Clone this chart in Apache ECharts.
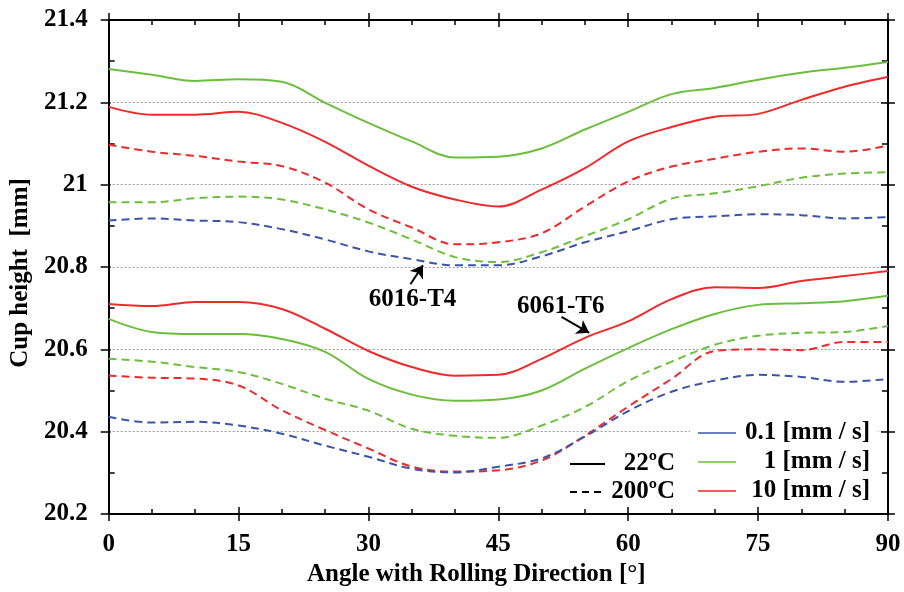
<!DOCTYPE html>
<html>
<head>
<meta charset="utf-8">
<script src="https://cdn.jsdelivr.net/npm/echarts@6/dist/echarts.min.js"></script>
<style>
html,body{margin:0;padding:0;background:#fff;}
#chart{width:904px;height:592px;}
</style>
</head>
<body>
<div id="chart"></div>
<script>
// ---- data ----
const angles = [0,5,10,15,20,25,30,35,40,45,50,55,60,65,70,75,80,85,90];
const xTicks = [0,15,30,45,60,75,90];
const yTicks = [20.2,20.4,20.6,20.8,21,21.2,21.4];

// 6016-T4 (upper group)
const t4_1mm_22C   = [21.281,21.267,21.252,21.256,21.250,21.199,21.150,21.105,21.066,21.068,21.088,21.134,21.177,21.220,21.235,21.255,21.272,21.284,21.298];
const t4_10mm_22C  = [21.189,21.170,21.170,21.177,21.150,21.104,21.046,20.995,20.964,20.947,20.988,21.040,21.105,21.140,21.165,21.172,21.206,21.238,21.262];
const t4_10mm_200C = [21.097,21.080,21.070,21.056,21.045,21.005,20.940,20.896,20.855,20.860,20.882,20.947,21.008,21.044,21.063,21.080,21.088,21.080,21.095];
const t4_1mm_200C  = [20.957,20.957,20.967,20.971,20.964,20.940,20.908,20.867,20.824,20.812,20.836,20.875,20.916,20.966,20.979,20.996,21.017,21.027,21.030];
const t4_01mm_200C = [20.913,20.918,20.913,20.909,20.892,20.867,20.838,20.819,20.804,20.804,20.826,20.860,20.887,20.916,20.923,20.928,20.926,20.918,20.921];

// 6061-T6 (lower group)
const t6_10mm_22C  = [20.710,20.705,20.715,20.715,20.698,20.650,20.596,20.557,20.536,20.538,20.577,20.628,20.668,20.722,20.751,20.749,20.766,20.778,20.790];
const t6_1mm_22C   = [20.674,20.642,20.637,20.637,20.625,20.594,20.528,20.490,20.475,20.478,20.500,20.553,20.603,20.649,20.686,20.708,20.712,20.717,20.730];
const t6_1mm_200C  = [20.577,20.570,20.557,20.545,20.516,20.480,20.451,20.407,20.390,20.385,20.415,20.460,20.523,20.570,20.611,20.633,20.640,20.642,20.657];
const t6_10mm_200C = [20.536,20.531,20.529,20.512,20.452,20.404,20.359,20.315,20.303,20.306,20.330,20.390,20.461,20.528,20.596,20.600,20.598,20.618,20.618];
const t6_01mm_200C = [20.436,20.422,20.424,20.415,20.395,20.366,20.339,20.310,20.301,20.315,20.335,20.388,20.450,20.497,20.524,20.538,20.533,20.521,20.528];

const speedNames = ['0.1 [mm / s]','1 [mm / s]','10 [mm / s]'];
const tempNames = ['22ºC','200ºC'];

// annotations: label, label position, arrow start, arrow tip (angle, height)
const annoLabels = ['6016-T4','6061-T6'];
const annoLabelAt = [[35.1,20.722],[52.2,20.705]];
const annoArrowFrom = [[34.85,20.758],[52.3,20.679]];
const annoArrowTo = [[36.3,20.804],[55.5,20.640]];

// ---- styles ----
const BLUE = '#3a55a8', GREEN = '#6cbf3e', RED = '#ee2a2b';
const FONT = 'Liberation Serif';
const DASH = [8,5];
const FS = 25;

const chart = echarts.init(document.getElementById('chart'));

function pairs(ys){ return angles.map((a,i)=>[a,ys[i]]); }
function mkSeries(name, ys, color, dashed){
  return {
    name, type:'line', data: pairs(ys), smooth:0.35, symbol:'none',
    lineStyle:{color, width:2, type: dashed ? DASH : 'solid'},
    itemStyle:{color}, z:3, silent:true
  };
}

const X = {min:0, max:90, interval:15};
const Y = {min:20.2, max:21.4, interval:0.2};
const axisLine = {show:true, onZero:false, lineStyle:{color:'#000', width:2}};
const tickStyle = {color:'#000', width:1.5};

const xAxes = [
  Object.assign({type:'value', position:'bottom', axisLine,
    axisTick:{show:true, inside:false, length:7, lineStyle:tickStyle},
    axisLabel:{show:true, margin:18, color:'#000', fontFamily:FONT, fontWeight:'bold', fontSize:FS},
    splitLine:{show:false},
    name:'Angle with Rolling Direction [°]', nameLocation:'middle', nameGap:48,
    nameTextStyle:{color:'#000', fontFamily:FONT, fontWeight:'bold', fontSize:FS, padding:[0,44,0,0]}}, X),
  Object.assign({type:'value', position:'bottom', axisLine,
    axisTick:{show:true, inside:true, length:7, lineStyle:tickStyle},
    minorTick:{show:true, splitNumber:3, length:5, lineStyle:tickStyle},
    axisLabel:{show:false}, splitLine:{show:false}}, X),
  Object.assign({type:'value', position:'top', axisLine,
    axisTick:{show:true, inside:true, length:7, lineStyle:tickStyle},
    minorTick:{show:true, splitNumber:3, length:5, lineStyle:tickStyle},
    axisLabel:{show:false}, splitLine:{show:false}}, X),
  Object.assign({type:'value', position:'top', axisLine,
    axisTick:{show:true, inside:false, length:7, lineStyle:tickStyle},
    axisLabel:{show:false}, splitLine:{show:false}}, X)
];
const yAxes = [
  Object.assign({type:'value', position:'left', axisLine,
    axisTick:{show:true, inside:false, length:8, lineStyle:tickStyle},
    axisLabel:{show:true, margin:21, color:'#000', fontFamily:FONT, fontWeight:'bold', fontSize:FS,
      formatter: v => String(+v.toFixed(1))},
    splitLine:{show:true, lineStyle:{color:'#999', width:1, type:[2,2]}},
    name:'Cup height  [mm]', nameLocation:'middle', nameGap:68, nameRotate:90,
    nameTextStyle:{color:'#000', fontFamily:FONT, fontWeight:'bold', fontSize:FS, padding:[0,12,0,0]}}, Y),
  Object.assign({type:'value', position:'left', axisLine,
    axisTick:{show:true, inside:true, length:2, lineStyle:tickStyle},
    minorTick:{show:true, splitNumber:2, length:6, lineStyle:tickStyle},
    axisLabel:{show:false}, splitLine:{show:false}}, Y),
  Object.assign({type:'value', position:'right', axisLine,
    axisTick:{show:true, inside:true, length:7, lineStyle:tickStyle},
    minorTick:{show:true, splitNumber:2, length:6, lineStyle:tickStyle},
    axisLabel:{show:false}, splitLine:{show:false}}, Y),
  Object.assign({type:'value', position:'right', axisLine,
    axisTick:{show:true, inside:false, length:7, lineStyle:tickStyle},
    axisLabel:{show:false}, splitLine:{show:false}}, Y)
];

const series = [
  mkSeries(speedNames[1]+' 22', t4_1mm_22C, GREEN, false),
  mkSeries(speedNames[2]+' 22', t4_10mm_22C, RED, false),
  mkSeries(speedNames[2]+' 200', t4_10mm_200C, RED, true),
  mkSeries(speedNames[1]+' 200', t4_1mm_200C, GREEN, true),
  mkSeries(speedNames[0]+' 200', t4_01mm_200C, BLUE, true),
  mkSeries(speedNames[2]+' 22 b', t6_10mm_22C, RED, false),
  mkSeries(speedNames[1]+' 22 b', t6_1mm_22C, GREEN, false),
  mkSeries(speedNames[1]+' 200 b', t6_1mm_200C, GREEN, true),
  mkSeries(speedNames[2]+' 200 b', t6_10mm_200C, RED, true),
  mkSeries(speedNames[0]+' 200 b', t6_01mm_200C, BLUE, true),
  {
    name:'annotations', type:'line', data:[], symbol:'none', silent:true, z:5,
    markLine:{
      silent:true, symbol:['none','arrow'], symbolSize:12,
      lineStyle:{color:'#000', width:2, type:'solid'}, label:{show:false},
      data: annoLabels.map((n,i)=>[{coord:annoArrowFrom[i]},{coord:annoArrowTo[i]}])
    },
    markPoint:{
      silent:true, symbol:'circle', symbolSize:1, itemStyle:{color:'rgba(0,0,0,0)'},
      label:{show:true, position:'inside', color:'#000', fontFamily:FONT, fontWeight:'bold', fontSize:FS,
        formatter: p => p.name},
      data: annoLabels.map((n,i)=>({name:n, coord:annoLabelAt[i]}))
    }
  }
];

// legend drawn as graphic elements
const speedColors = [BLUE, GREEN, RED];
const speedRowY = [433, 462, 491];
const tempRowY = [464, 492];
const legendText = {fontFamily:FONT, fontWeight:'bold', fontSize:FS, fill:'#000'};
const graphics = [
  {type:'rect', shape:{x:690, y:420, width:188, height:84}, style:{fill:'#fff'}, z:1, silent:true}
];
speedNames.forEach((n,i)=>{
  graphics.push({type:'line', shape:{x1:698, y1:speedRowY[i], x2:736, y2:speedRowY[i]},
    style:{stroke:speedColors[i], lineWidth:1.5}, z:10, silent:true});
  graphics.push({type:'text', x:870, y:speedRowY[i],
    style:Object.assign({text:n, textAlign:'right', textVerticalAlign:'middle'}, legendText), z:10, silent:true});
});
tempNames.forEach((n,i)=>{
  graphics.push({type:'line', shape:{x1:570, y1:tempRowY[i], x2:605, y2:tempRowY[i]},
    style:{stroke:'#000', lineWidth:2, lineDash: i===1 ? [7,5] : null}, z:10, silent:true});
  graphics.push({type:'text', x:675, y:tempRowY[i],
    style:Object.assign({text:n, textAlign:'right', textVerticalAlign:'middle'}, legendText), z:10, silent:true});
});

chart.setOption({
  animation:false,
  backgroundColor:'#fff',
  grid:{left:108, right:16, top:20, bottom:76, containLabel:false},
  xAxis:xAxes,
  yAxis:yAxes,
  series:series,
  graphic:graphics
});
</script>
</body>
</html>
